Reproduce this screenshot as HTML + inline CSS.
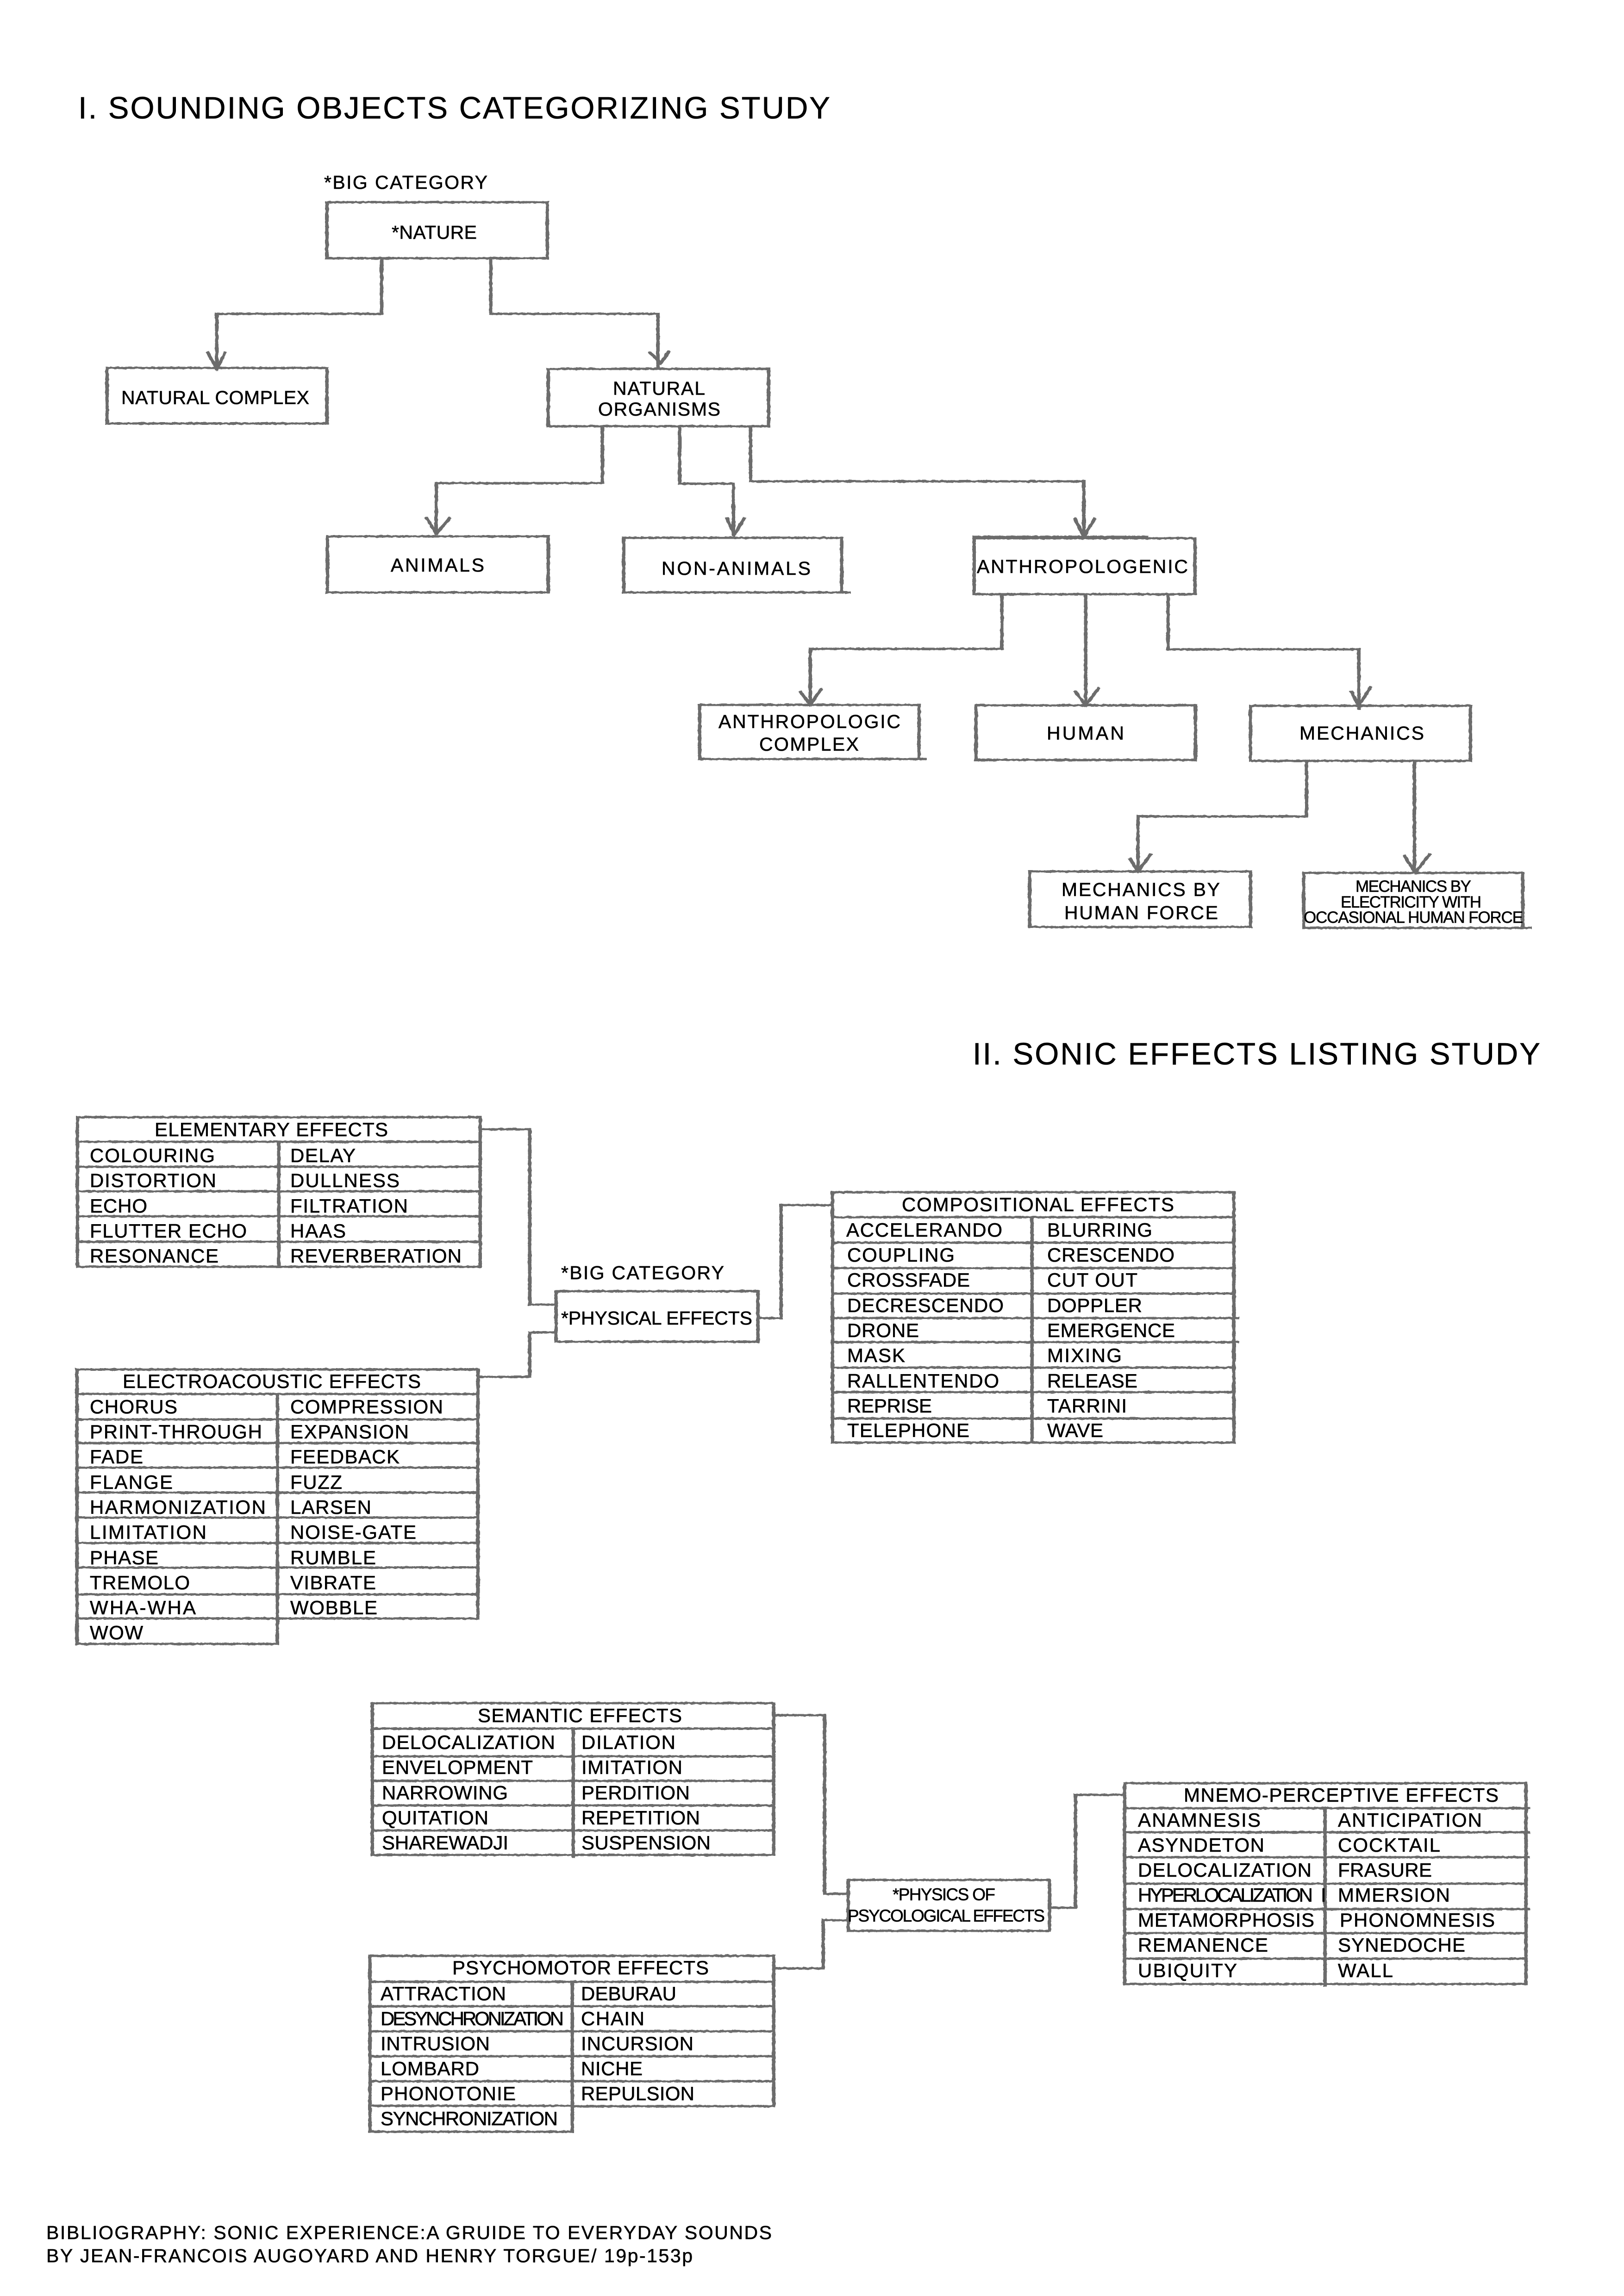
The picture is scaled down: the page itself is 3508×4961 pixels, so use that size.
<!DOCTYPE html>
<html lang="en">
<head>
<meta charset="utf-8">
<title>Sounding objects and sonic effects study</title>
<style>
html,body{margin:0;padding:0;background:#fff;width:3508px;height:4961px;overflow:hidden}
svg{display:block}
text{font-family:"Liberation Sans",Arial,sans-serif;fill:#000;stroke:#000;stroke-width:.6px;font-size:42px;white-space:pre}
.t{font-size:67px}
.b{font-size:41px}
.s{font-size:35px}
.p{font-size:37px}
path{fill:none;stroke:#6c6c6c;stroke-width:5;stroke-linecap:square;stroke-linejoin:miter}
</style>
</head>
<body>
<svg xmlns="http://www.w3.org/2000/svg" width="3508" height="4961" viewBox="0 0 3508 4961">
<defs>
<filter id="rough" filterUnits="userSpaceOnUse" x="0" y="0" width="3508" height="4961" color-interpolation-filters="sRGB">
<feOffset in="SourceGraphic" dx="2.5" dy="0" result="o"/>
<feMerge result="m"><feMergeNode in="SourceGraphic"/><feMergeNode in="o"/></feMerge>
<feTurbulence type="fractalNoise" baseFrequency="0.12" numOctaves="2" seed="4" result="n"/>
<feDisplacementMap in="m" in2="n" scale="4" xChannelSelector="R" yChannelSelector="G"/>
</filter>
</defs>
<rect width="3508" height="4961" fill="#fff"/>

<g filter="url(#rough)">
<!-- Section I boxes -->
<path d="M705 437H1181V558H705Z"/>
<path d="M230 795H705V915H230Z"/>
<path d="M1183 797H1659V921H1183Z"/>
<path d="M706 1159H1183V1280H706Z"/>
<path d="M1346 1162H1817V1280H1346Z"/>
<path d="M1817 1280H1833"/>
<path d="M2103 1163H2580V1284H2103Z"/>
<path d="M2103 1160H2475"/>
<path d="M1510 1523H1984V1640H1510Z"/>
<path d="M1984 1640H1997"/>
<path d="M2107 1524H2581V1642H2107Z"/>
<path d="M2700 1525H3175V1644H2700Z"/>
<path d="M2223 1883H2700V2003H2223Z"/>
<path d="M2815 1886H3288V2005H2815Z"/>
<path d="M3288 2005H3304"/>

<!-- Section I connectors -->
<path d="M823 558V678H467V797"/>
<path d="M448 762L467 797L485 762"/>
<path d="M1059 558V678H1420V797"/>
<path d="M1403 762L1426 785L1443 760"/>
<path d="M1300 921V1044H941V1153"/>
<path d="M921 1120L941 1153L970 1120"/>
<path d="M1467 921V1045H1583V1156"/>
<path d="M1569 1120L1585 1156L1606 1120"/>
<path d="M1620 921V1040H2340V1160"/>
<path d="M2321 1121L2340 1160L2363 1121"/>
<path d="M2163 1284V1402H1749V1523"/>
<path d="M1728 1495L1749 1523L1772 1490"/>
<path d="M2344 1284V1524"/>
<path d="M2322 1495L2344 1524L2372 1487"/>
<path d="M2522 1284V1403H2934V1531"/>
<path d="M2918 1495L2934 1525L2959 1485"/>
<path d="M2821 1644V1764H2457V1883"/>
<path d="M2440 1856L2457 1883L2484 1846"/>
<path d="M3054 1644V1886"/>
<path d="M3033 1850L3056 1886L3087 1846"/>

<!-- Elementary table -->
<path d="M166 2414H1036V2737H166ZM166 2467H1036M166 2521H1036M166 2574H1036M166 2628H1036M166 2683H1036M601 2467V2737"/>
<!-- Physical effects hub -->
<path d="M1200 2790H1636V2899H1200Z"/>
<path d="M1036 2440H1143V2819H1200"/>
<path d="M1033 2975H1143V2879H1200"/>
<path d="M1636 2848H1686V2604H1797"/>
<!-- Electroacoustic table -->
<path d="M165 2959H1031V3497H598M165 2959V3552H598V3012M165 3012H1031M165 3067H1031M165 3118H1031M165 3171H1031M165 3225H1031M165 3279H1031M165 3334H1031M165 3387H1031M165 3445H1031M165 3497H598"/>
<!-- Compositional table -->
<path d="M1797 2576H2664V3117H1797ZM1797 2630H2664M1797 2685H2664M1797 2740H2664M1797 2795H2664M1797 2848H2672M1797 2900H2672M1797 2955H2664M1797 3008H2664M1797 3065H2664M2228 2630V3117"/>
<!-- Semantic table -->
<path d="M803 3680H1670V4008H803ZM803 3735H1670M803 3795H1670M803 3848H1670M803 3901H1670M803 3955H1670M1237 3735V4012"/>
<!-- Psychomotor table -->
<path d="M798 4226H1670V4551H1235M798 4226V4606H1235V4282M798 4282H1670M798 4335H1670M798 4389H1670M798 4443H1670M798 4497H1670M798 4550H1235"/>
<!-- Physics of psychological effects hub -->
<path d="M1831 4062H2266V4172H1831Z"/>
<path d="M1670 3706H1780V4092H1831"/>
<path d="M1670 4253H1777V4149H1831"/>
<path d="M2266 4122H2322V3878H2428"/>
<!-- Mnemo-perceptive table -->
<path d="M2428 3853H3295V4287H2428ZM2428 3907H3300M2428 3959H3300M2428 4013H3300M2428 4070H3295M2428 4125H3300M2428 4177H3295M2428 4232H3295M2861 3907V4290"/>
</g>

<!-- Section I text -->
<text class="t" x="169" y="256" textLength="1624">I. SOUNDING OBJECTS CATEGORIZING STUDY</text>
<text class="b" x="700" y="408" textLength="353">*BIG CATEGORY</text>
<text class="b" x="846" y="516" textLength="184">*NATURE</text>
<text class="b" x="262" y="873" textLength="406">NATURAL COMPLEX</text>
<text class="b" x="1324" y="853" textLength="199">NATURAL</text>
<text class="b" x="1292" y="898" textLength="264">ORGANISMS</text>
<text class="b" x="844" y="1235" textLength="202">ANIMALS</text>
<text class="b" x="1429" y="1242" textLength="322">NON-ANIMALS</text>
<text class="b" x="2110" y="1238" textLength="456">ANTHROPOLOGENIC</text>
<text class="b" x="1552" y="1573" textLength="393">ANTHROPOLOGIC</text>
<text class="b" x="1640" y="1622" textLength="215">COMPLEX</text>
<text class="b" x="2261" y="1598" textLength="167">HUMAN</text>
<text class="b" x="2807" y="1598" textLength="269">MECHANICS</text>
<text class="b" x="2293" y="1936" textLength="342">MECHANICS BY</text>
<text class="b" x="2299" y="1986" textLength="332">HUMAN FORCE</text>
<text class="s" x="2928" y="1927" textLength="250">MECHANICS BY</text>
<text class="s" x="2896" y="1961" textLength="304">ELECTRICITY WITH</text>
<text class="s" x="2816" y="1994" textLength="474">OCCASIONAL HUMAN FORCE</text>

<text class="t" x="2101" y="2300" textLength="1226">II. SONIC EFFECTS LISTING STUDY</text>

<text x="334" y="2455" textLength="504">ELEMENTARY EFFECTS</text>
<text x="194" y="2511" textLength="270">COLOURING</text>
<text x="194" y="2565" textLength="273">DISTORTION</text>
<text x="194" y="2620" textLength="124">ECHO</text>
<text x="194" y="2674" textLength="339">FLUTTER ECHO</text>
<text x="194" y="2728" textLength="278">RESONANCE</text>
<text x="627" y="2511" textLength="141">DELAY</text>
<text x="627" y="2565" textLength="236">DULLNESS</text>
<text x="627" y="2620" textLength="254">FILTRATION</text>
<text x="627" y="2674" textLength="120">HAAS</text>
<text x="627" y="2728" textLength="370">REVERBERATION</text>

<text class="b" x="1212" y="2764" textLength="352">*BIG CATEGORY</text>
<text class="b" x="1212" y="2862" textLength="413">*PHYSICAL EFFECTS</text>

<text x="265" y="2999" textLength="644">ELECTROACOUSTIC EFFECTS</text>
<text x="194" y="3054" textLength="189">CHORUS</text>
<text x="194" y="3108" textLength="372">PRINT-THROUGH</text>
<text x="194" y="3162" textLength="115">FADE</text>
<text x="194" y="3217" textLength="179">FLANGE</text>
<text x="194" y="3271" textLength="380">HARMONIZATION</text>
<text x="194" y="3325" textLength="252">LIMITATION</text>
<text x="194" y="3380" textLength="148">PHASE</text>
<text x="194" y="3434" textLength="216">TREMOLO</text>
<text x="194" y="3488" textLength="229">WHA-WHA</text>
<text x="194" y="3542" textLength="115">WOW</text>
<text x="627" y="3054" textLength="330">COMPRESSION</text>
<text x="627" y="3108" textLength="256">EXPANSION</text>
<text x="627" y="3162" textLength="236">FEEDBACK</text>
<text x="627" y="3217" textLength="112">FUZZ</text>
<text x="627" y="3271" textLength="175">LARSEN</text>
<text x="627" y="3325" textLength="272">NOISE-GATE</text>
<text x="627" y="3380" textLength="185">RUMBLE</text>
<text x="627" y="3434" textLength="185">VIBRATE</text>
<text x="627" y="3488" textLength="188">WOBBLE</text>

<text x="1948" y="2617" textLength="588">COMPOSITIONAL EFFECTS</text>
<text x="1828" y="2672" textLength="337">ACCELERANDO</text>
<text x="1830" y="2726" textLength="232">COUPLING</text>
<text x="1830" y="2780" textLength="265">CROSSFADE</text>
<text x="1830" y="2835" textLength="338">DECRESCENDO</text>
<text x="1830" y="2889" textLength="155">DRONE</text>
<text x="1830" y="2943" textLength="125">MASK</text>
<text x="1830" y="2998" textLength="328">RALLENTENDO</text>
<text x="1830" y="3052" textLength="183">REPRISE</text>
<text x="1830" y="3105" textLength="264">TELEPHONE</text>
<text x="2262" y="2672" textLength="227">BLURRING</text>
<text x="2262" y="2726" textLength="275">CRESCENDO</text>
<text x="2262" y="2780" textLength="195">CUT OUT</text>
<text x="2262" y="2835" textLength="205">DOPPLER</text>
<text x="2262" y="2889" textLength="276">EMERGENCE</text>
<text x="2262" y="2943" textLength="161">MIXING</text>
<text x="2262" y="2998" textLength="195">RELEASE</text>
<text x="2262" y="3052" textLength="172">TARRINI</text>
<text x="2262" y="3105" textLength="121">WAVE</text>

<text x="1032" y="3721" textLength="441">SEMANTIC EFFECTS</text>
<text x="825" y="3779" textLength="374">DELOCALIZATION</text>
<text x="825" y="3833" textLength="326">ENVELOPMENT</text>
<text x="825" y="3888" textLength="272">NARROWING</text>
<text x="825" y="3942" textLength="230">QUITATION</text>
<text x="825" y="3996" textLength="273">SHAREWADJI</text>
<text x="1256" y="3779" textLength="203">DILATION</text>
<text x="1256" y="3833" textLength="218">IMITATION</text>
<text x="1256" y="3888" textLength="234">PERDITION</text>
<text x="1256" y="3942" textLength="256">REPETITION</text>
<text x="1256" y="3996" textLength="279">SUSPENSION</text>

<text x="977" y="4266" textLength="554">PSYCHOMOTOR EFFECTS</text>
<text x="822" y="4322" textLength="271">ATTRACTION</text>
<text x="822" y="4376" textLength="396">DESYNCHRONIZATION</text>
<text x="822" y="4430" textLength="236">INTRUSION</text>
<text x="822" y="4484" textLength="213">LOMBARD</text>
<text x="822" y="4538" textLength="292">PHONOTONIE</text>
<text x="822" y="4592" textLength="383">SYNCHRONIZATION</text>
<text x="1255" y="4322" textLength="206">DEBURAU</text>
<text x="1255" y="4376" textLength="137">CHAIN</text>
<text x="1255" y="4430" textLength="243">INCURSION</text>
<text x="1255" y="4484" textLength="133">NICHE</text>
<text x="1255" y="4538" textLength="245">REPULSION</text>

<text class="p" x="1928" y="4106" textLength="222">*PHYSICS OF</text>
<text class="p" x="1831" y="4152" textLength="426">PSYCOLOGICAL EFFECTS</text>

<text x="2557" y="3893" textLength="680">MNEMO-PERCEPTIVE EFFECTS</text>
<text x="2458" y="3947" textLength="265">ANAMNESIS</text>
<text x="2458" y="4001" textLength="273">ASYNDETON</text>
<text x="2458" y="4055" textLength="375">DELOCALIZATION</text>
<text x="2458" y="4109" textLength="378">HYPERLOCALIZATION</text>
<text x="2853" y="4109">I</text>
<text x="2458" y="4163" textLength="381">METAMORPHOSIS</text>
<text x="2458" y="4217" textLength="281">REMANENCE</text>
<text x="2458" y="4272" textLength="214">UBIQUITY</text>
<text x="2890" y="3947" textLength="311">ANTICIPATION</text>
<text x="2890" y="4001" textLength="221">COCKTAIL</text>
<text x="2890" y="4055" textLength="203">FRASURE</text>
<text x="2890" y="4109" textLength="242">MMERSION</text>
<text x="2894" y="4163" textLength="335">PHONOMNESIS</text>
<text x="2890" y="4217" textLength="275">SYNEDOCHE</text>
<text x="2890" y="4272" textLength="119">WALL</text>

<text class="b" x="100" y="4838" textLength="1567">BIBLIOGRAPHY: SONIC EXPERIENCE:A GRUIDE TO EVERYDAY SOUNDS</text>
<text class="b" x="100" y="4888" textLength="1396">BY JEAN-FRANCOIS AUGOYARD AND HENRY TORGUE/ 19p-153p</text>
</svg>
</body>
</html>
